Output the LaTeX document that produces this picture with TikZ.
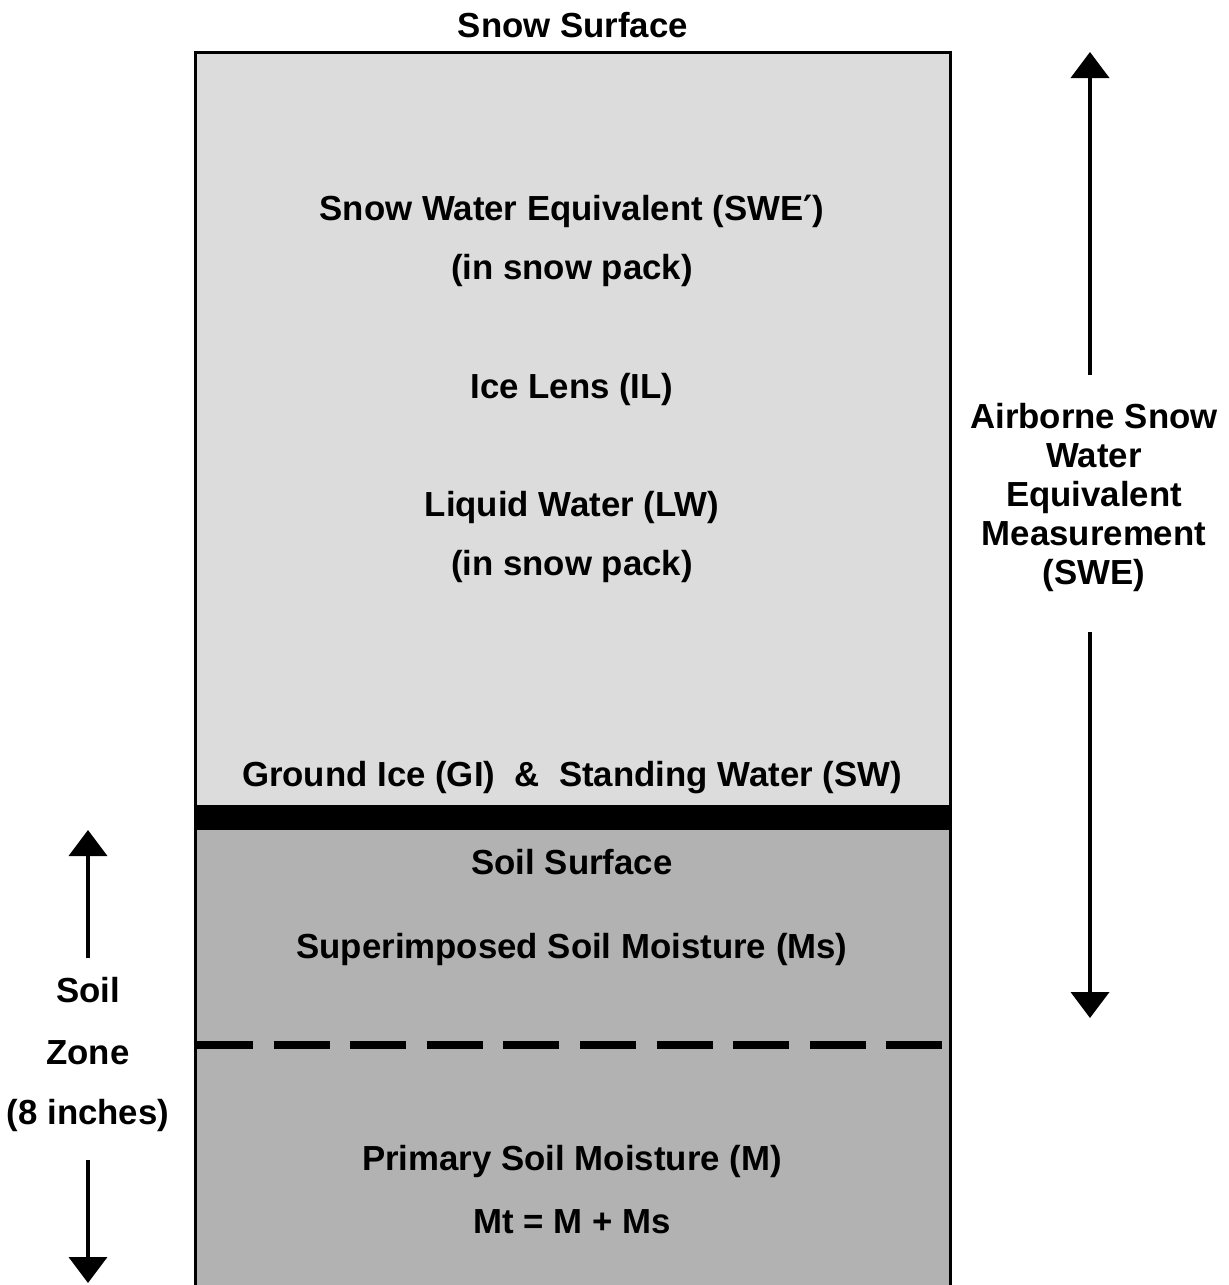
\documentclass[tikz,border=0pt]{standalone}
\usepackage{fontspec}
\setmainfont{Liberation Sans}
\newfontfamily\primefont{DejaVu Sans}
\usetikzlibrary{arrows.meta}
\definecolor{snowgray}{RGB}{220,220,220}
\definecolor{soilgray}{RGB}{178,178,178}
\begin{document}
\begin{tikzpicture}[x=0.5pt,y=-0.5pt,
  lbl/.style={font=\fontsize{17.4}{20}\selectfont\bfseries, inner sep=0pt, align=center},
  arr/.style={line width=2pt, -{Triangle[width=19pt,length=13pt]}}]
\useasboundingbox (0,0) rectangle (1229,1285);
\fill[white] (0,0) rectangle (1229,1285);
% layers
\fill[snowgray] (195,52) rectangle (950,805);
\fill[soilgray] (195,830) rectangle (950,1295);
\fill[black] (195,805) rectangle (950,830);
\draw[line width=1.5pt] (195,1295) -- (195,52) -- (950,52) -- (950,1295);
\draw[line width=4pt, dash pattern=on 28pt off 10.3pt] (197,1045) -- (944,1045);
% texts
\node[lbl] (snowsurf) at (573,25) {Snow Surface};
\node[lbl] (swe1) at (572,211) {Snow Water Equivalent (SWE{\primefont\bfseries ′})};
\node[lbl] (swe2) at (572,270) {(in snow pack)};
\node[lbl] (il) at (572,389) {Ice Lens (IL)};
\node[lbl] (lw1) at (572,507) {Liquid Water (LW)};
\node[lbl] (lw2) at (572,566) {(in snow pack)};
\node[lbl] (gi) at (572,778) {Ground Ice (GI)\ \ \&\ \ Standing Water (SW)};
\node[lbl] (soilsurf) at (572,862) {Soil Surface};
\node[lbl] (ms) at (572,949) {Superimposed Soil Moisture (Ms)};
\node[lbl] (m) at (572,1161) {Primary Soil Moisture (M)};
\node[lbl] (mt) at (572,1222) {Mt = M + Ms};
\node[lbl] (soil) at (88,990) {Soil};
\node[lbl] (zone) at (88,1053) {Zone};
\node[lbl] (inch) at (88,1115) {(8 inches)};
\node[lbl, font=\fontsize{17.4}{19.5}\selectfont\bfseries] (aswe) at (1094,497) {Airborne Snow\\Water\\Equivalent\\Measurement\\(SWE)};
% arrows
\coordinate (la1) at (88,958);
\coordinate (la2) at (88,830);
\coordinate (lb1) at (88,1160);
\coordinate (lb2) at (88,1283);
\coordinate (ra1) at (1090,375);
\coordinate (ra2) at (1090,52);
\coordinate (rb1) at (1090,632);
\coordinate (rb2) at (1090,1018);
\draw[arr] (la1) -- (la2);
\draw[arr] (lb1) -- (lb2);
\draw[arr] (ra1) -- (ra2);
\draw[arr] (rb1) -- (rb2);
\end{tikzpicture}
\end{document}
